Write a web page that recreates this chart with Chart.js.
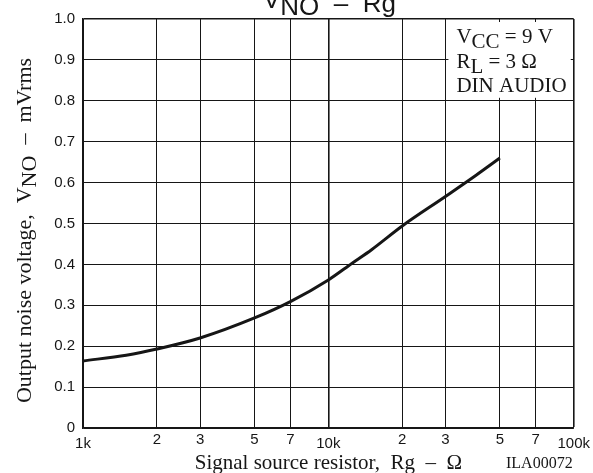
<!DOCTYPE html>
<html>
<head>
<meta charset="utf-8">
<script src="https://cdn.jsdelivr.net/npm/chart.js@4"></script>
<style>
  html, body { margin: 0; padding: 0; background: #fff; }
  canvas { display: block; }
</style>
</head>
<body>
<canvas id="myChart" width="593" height="473"></canvas>
<script>
// curve: source resistance (ohm) vs noise (mVrms)
let resistance = [1000, 1500, 2000, 3000, 5000, 7000, 10000, 12500, 15000, 20000, 30000, 40000, 50000];
let noise = [0.164, 0.178, 0.193, 0.220, 0.269, 0.309, 0.362, 0.403, 0.436, 0.494, 0.566, 0.618, 0.660];

let xTickValues = [1000, 2000, 3000, 5000, 7000, 10000, 20000, 30000, 50000, 70000, 100000];
let xTickLabels = ['1k', '2', '3', '5', '7', '10k', '2', '3', '5', '7', '100k'];
let yTickValues = [0, 0.1, 0.2, 0.3, 0.4, 0.5, 0.6, 0.7, 0.8, 0.9, 1.0];
let yTickLabels = ['0', '0.1', '0.2', '0.3', '0.4', '0.5', '0.6', '0.7', '0.8', '0.9', '1.0'];

let ink = '#161616';
let serif = '"Liberation Serif", "Times New Roman", serif';
let sans = '"Liberation Sans", Arial, sans-serif';

// draws text pieces one after another, each with its own baseline shift
let drawPieces = function (ctx, x, y, pieces, font) {
    ctx.font = font;
    pieces.forEach((p) => {
        ctx.fillText(p[0], x, y + (p[1] || 0));
        x += ctx.measureText(p[0]).width;
    });
};

let piecesWidth = function (ctx, pieces, font) {
    ctx.font = font;
    return pieces.reduce((w, p) => w + ctx.measureText(p[0]).width, 0);
};

let isDecade = (v) => v === 1000 || v === 10000 || v === 100000;

let annotations = {
    id: 'annotations',
    afterDatasetsDraw(chart) {
        let ctx = chart.ctx;
        let x = chart.scales.x;
        let y = chart.scales.y;
        let area = chart.chartArea;
        ctx.save();

        // condition box in the top right cell block
        let bx = x.getPixelForValue(30000);
        let by = y.getPixelForValue(0.8);
        ctx.fillStyle = '#fff';
        ctx.fillRect(bx + 3, area.top + 3, area.right - bx - 6, by - area.top - 6);

        ctx.fillStyle = ink;
        ctx.textAlign = 'left';
        ctx.textBaseline = 'alphabetic';
        let f = '21px ' + serif;
        drawPieces(ctx, bx + 11, 43, [['V'], ['CC', 5], [' = 9 V']], f);
        drawPieces(ctx, bx + 11, 68, [['R'], ['L', 5], [' = 3 \u03A9']], f);
        drawPieces(ctx, bx + 11, 92, [['DIN AUDIO']], f);

        // chart title, clipped at the top edge like the original
        let tf = '26px ' + sans;
        drawPieces(ctx, 263, 8, [['V'], ['NO', 7], ['  \u2013  ', 4], ['Rg', 4]], tf);

        // x axis title
        let xt = [['Signal source resistor,  Rg  \u2013  \u03A9']];
        let xf = '21px ' + serif;
        let cx = (area.left + area.right) / 2;
        drawPieces(ctx, cx - piecesWidth(ctx, xt, xf) / 2, 469, xt, xf);

        ctx.font = '16px ' + serif;
        ctx.fillText('ILA00072', 506, 468);

        // y axis title, rotated
        let yt = [['Output noise voltage,  V'], ['NO', 5], ['  \u2013  mVrms']];
        let yf = '22px ' + serif;
        let cy = (area.top + area.bottom) / 2 + 7;
        ctx.translate(31, cy);
        ctx.rotate(-Math.PI / 2);
        drawPieces(ctx, -piecesWidth(ctx, yt, yf) / 2, 0, yt, yf);

        ctx.restore();
    }
};

let ctx = document.getElementById('myChart').getContext('2d');

var chart = new Chart(ctx, {
    type: 'line',
    data: {
        datasets: [{
            label: 'VNO',
            data: resistance.map((r, i) => ({ x: r, y: noise[i] })),
            borderColor: ink,
            borderWidth: 3,
            pointRadius: 0,
            fill: false,
            cubicInterpolationMode: 'monotone'
        }]
    },
    options: {
        responsive: false,
        animation: false,
        layout: { padding: { top: 19, right: 19, left: 0, bottom: 0 } },
        plugins: {
            legend: { display: false },
            tooltip: { enabled: false },
            title: { display: false }
        },
        scales: {
            x: {
                type: 'logarithmic',
                min: 1000,
                max: 100000,
                afterBuildTicks: (scale) => {
                    scale.ticks = xTickValues.map(v => ({ value: v }));
                },
                afterFit: (scale) => { scale.height = 45; },
                ticks: {
                    autoSkip: false,
                    maxRotation: 0,
                    padding: 3,
                    color: ink,
                    // decade labels sit a little lower than the digits
                    font: (c) => ({
                        family: sans,
                        size: 15,
                        lineHeight: (c.tick && isDecade(c.tick.value)) ? 1.65 : 1.2
                    }),
                    callback: (value, index) => xTickLabels[index]
                },
                grid: {
                    color: ink,
                    drawTicks: false,
                    lineWidth: (c) => (c.tick && (c.tick.value === 100000 || c.tick.value === 10000)) ? 1.6 : 1
                },
                border: { display: true, color: ink, width: 1.6 }
            },
            y: {
                type: 'linear',
                min: 0,
                max: 1,
                afterBuildTicks: (scale) => {
                    scale.ticks = yTickValues.map(v => ({ value: v }));
                },
                afterFit: (scale) => { scale.width = 83; },
                ticks: {
                    padding: 8,
                    color: ink,
                    font: { family: sans, size: 15 },
                    callback: (value, index) => yTickLabels[index]
                },
                grid: {
                    color: ink,
                    drawTicks: false,
                    lineWidth: (c) => (c.tick && c.tick.value === 1) ? 1.6 : 1
                },
                border: { display: true, color: ink, width: 1.6 }
            }
        }
    },
    plugins: [annotations]
});
</script>
</body>
</html>
